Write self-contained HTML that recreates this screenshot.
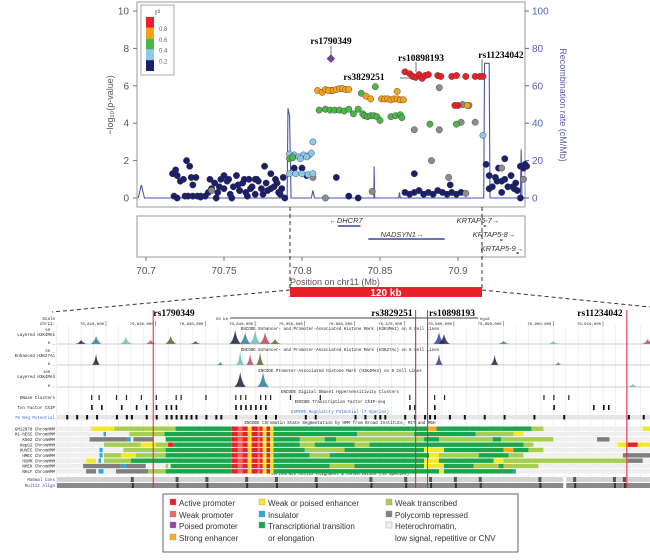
<!DOCTYPE html>
<html><head><meta charset="utf-8"><style>
body{margin:0;background:#fff}
svg{display:block;font-family:"Liberation Sans",sans-serif}
.m{font-family:"Liberation Mono",monospace}
</style></head><body>
<svg id="s" width="650" height="560" viewBox="0 0 650 560">
<g id="topg"></g>
<g id="bro"></g>
<g id="leg"></g>
</svg>
<script>
const navyPos=[70.717,70.718,70.719,70.72,70.722,70.724,70.726,70.728,70.729,70.73,70.732,70.735,70.738,70.74,70.742,70.744,70.746,70.748,70.75,70.752,70.754,70.756,70.758,70.76,70.762,70.764,70.766,70.768,70.77,70.772,70.774,70.776,70.778,70.78,70.782,70.784,70.786,70.788,70.789,70.72,70.725,70.735,70.745,70.755,70.765,70.775,70.785,70.75,70.76,70.77,70.78,70.73,70.795,70.8,70.803,70.822,70.83,70.836,70.866,70.869,70.872,70.875,70.878,70.881,70.884,70.887,70.89,70.893,70.896,70.899,70.902,70.872,70.895,70.918,70.92,70.922,70.924,70.926,70.928,70.93,70.932,70.934,70.936,70.938,70.94,70.942,70.944,70.92,70.925,70.93,70.935,70.94,70.943,70.928,70.937,70.741,70.747,70.753,70.759,70.763,70.767,70.771,70.777,70.783,70.787,70.733,70.727];
const navyVal=[1.3,0.1,1.5,1.2,0.9,1.0,2.0,1.7,1.1,0.1,1.1,0.05,0.1,0.3,0.5,0.8,0.3,1.0,0.5,0.9,0.2,0.6,1.2,0.4,0.8,0.3,1.0,0.6,0.2,0.9,0.5,1.7,0.4,1.3,0.6,0.8,0.2,1.1,0.0,0.0,0.1,0.1,0.0,0.0,0.1,0.2,0.3,1.2,0.4,1.0,0.5,0.7,1.6,1.6,1.2,1.1,0.1,0.0,0.3,0.2,0.3,0.4,0.2,0.3,0.2,0.4,0.3,0.2,0.3,0.2,0.3,1.3,0.7,1.8,1.2,0.6,1.1,1.6,0.9,2.1,0.6,1.2,0.5,0.4,1.7,1.6,1.7,0.5,0.9,1.0,0.6,0.0,1.8,0.3,0.8,1.0,0.6,1.0,0.7,1.0,0.5,1.0,0.8,1.0,0.5,0.1,0.1];
const lbPos=[70.792,70.795,70.798,70.801,70.804,70.806,70.792,70.796,70.8,70.804,70.807,70.794,70.799,70.803,70.807,70.916];
const lbVal=[2.35,2.3,2.2,2.3,2.25,2.4,1.3,1.3,1.3,1.25,1.3,2.2,2.1,2.2,3.0,3.35];
const grPos=[70.792,70.794,70.811,70.815,70.818,70.821,70.824,70.827,70.83,70.833,70.836,70.839,70.84,70.842,70.844,70.846,70.848,70.85,70.857,70.86,70.863,70.864,70.838,70.847,70.882,70.899];
const grVal=[2.1,2.15,4.7,4.75,4.7,4.7,4.7,4.65,4.75,4.5,4.75,4.5,4.4,4.35,4.4,4.4,4.35,4.15,4.35,4.4,4.45,4.3,5.6,5.95,3.95,3.95];
const orPos=[70.81,70.813,70.815,70.817,70.82,70.822,70.824,70.826,70.828,70.83,70.841,70.844,70.851,70.853,70.855,70.857,70.859,70.861,70.863,70.865,70.861,70.906];
const orVal=[5.75,5.65,5.8,5.75,5.75,5.8,5.85,5.85,5.8,5.8,5.45,5.3,5.3,5.3,5.3,5.25,5.3,5.3,5.25,5.25,5.7,4.95];
const redPos=[70.866,70.869,70.871,70.873,70.875,70.877,70.879,70.881,70.887,70.889,70.896,70.899,70.905,70.911,70.914,70.916,70.9,70.898];
const redVal=[6.75,6.65,6.5,6.45,6.6,6.4,6.55,6.6,6.55,6.5,6.5,6.55,6.5,6.5,6.5,6.5,4.95,4.95];
const gyPos=[70.819,70.888,70.872,70.888,70.883,70.894,70.902,70.911,70.903,70.907,70.845,70.815,70.905,70.928,70.942,70.807,70.742];
const gyVal=[5.75,5.9,3.65,3.65,2.0,1.1,4.05,4.05,5.0,4.95,0.35,0.0,0.25,1.6,1.0,1.1,0.4];
const leadPos=[70.8185], leadVal=[7.45];
const recPos=[70.695,70.697,70.699,70.7905,70.791,70.792,70.793,70.806,70.807,70.808,70.8461,70.8462,70.8466,70.862,70.8625,70.863,70.9165,70.917,70.92,70.9205,70.94,70.9405,70.941,70.945];
const recVal=[0,7,0,0,48,44,0,0,4,0,0,17,0,0,3,0,0,72,72,0,0,26,0,0];
const yTicks=[0,2,4,6,8,10], rTicks=[0,20,40,60,80,100], xTicks=[70.7,70.75,70.8,70.85,70.9];

const NS="http://www.w3.org/2000/svg";
function E(p,t,a,txt){const e=document.createElementNS(NS,t);for(const k in a)e.setAttribute(k,a[k]);if(txt!=null)e.textContent=txt;p.appendChild(e);return e;}
const X=v=>146+(v-70.7)*1560, Y=v=>198-v*18.7, YR=v=>198-v*1.87;
const TP=document.getElementById('topg');
let f=E(TP,'rect',{x:137,y:2,width:388,height:205,fill:'none',stroke:'#999'});

yTicks.forEach(t=>{E(TP,'line',{x1:133,x2:137,y1:Y(t),y2:Y(t),stroke:'#777'});
 const l=E(TP,'text',{x:129,y:Y(t)+3.5,'font-size':10,fill:'#555','text-anchor':'end'},t);
 });
rTicks.forEach(t=>{E(TP,'line',{x1:525,x2:529,y1:YR(t),y2:YR(t),stroke:'#5560b0'});
 const l=E(TP,'text',{x:532,y:YR(t)+3.5,'font-size':10,fill:'#5560b0'},t);
 });
let yt=E(TP,'text',{transform:'translate(113,105) rotate(-90)','font-size':9,fill:'#555','text-anchor':'middle'},'−log₁₀(p-value)');

let rt=E(TP,'text',{transform:'translate(560,105) rotate(90)','font-size':9,fill:'#5560b0','text-anchor':'middle'},'Recombination rate (cM/Mb)');

let d='';recPos.forEach((p,i)=>{d+=(i?'L':'M')+Math.max(137,X(p))+','+YR(recVal[i])});
let rl=E(TP,'path',{d:d,fill:'none',stroke:'#4a55b0','stroke-width':1.1});

function pts(P,V,c,nm){P.forEach((p,i)=>{const e=E(TP,'circle',{cx:X(p),cy:Y(V[i]),r:3.2,fill:c,stroke:'#333','stroke-width':0.4});
 });}
pts(navyPos,navyVal,'#1b1f6b','snp-point-r2-0.2');
pts(gyPos,gyVal,'#8c8c8c','snp-point-no-ld');
pts(lbPos,lbVal,'#8cc8ee','snp-point-r2-0.4');
pts(grPos,grVal,'#4cb648','snp-point-r2-0.6');
pts(orPos,orVal,'#f5a21c','snp-point-r2-0.8');
pts(redPos,redVal,'#e8202a','snp-point-r2-1');
leadPos.forEach((p,i)=>{const x=X(p),y=Y(leadVal[i]);const e=E(TP,'path',{d:`M${x},${y-4}L${x+4},${y}L${x},${y+4}L${x-4},${y}Z`,fill:'#7b3f9e',stroke:'#333','stroke-width':.4});
 });
function ann(t,tx,ty,lx1,ly1,lx2,ly2,nm){E(TP,'line',{x1:lx1,y1:ly1,x2:lx2,y2:ly2,stroke:'#333','stroke-width':.7});
 const e=E(TP,'text',{x:tx,y:ty,'font-size':9.5,'font-weight':'bold','font-family':'Liberation Serif,serif','text-anchor':'middle'},t);
 }
ann('rs1790349',331,44,331,46,331,56,'label-rs1790349');
ann('rs10898193',421,61,416,62,416,72,'label-rs10898193');
ann('rs3829251',364,80,400,78,412,78,'label-rs3829251');
ann('rs11234042',501,58,482,59,482,74,'label-rs11234042');
const lg=E(TP,'g',{});
E(lg,'rect',{x:141,y:5,width:33,height:70,fill:'#fff',stroke:'#aaa'});
E(lg,'text',{x:155,y:15,'font-size':8,fill:'#555'},'r²');
['#e8202a','#f5a21c','#4cb648','#8cc8ee','#1b1f6b'].forEach((c,i)=>E(lg,'rect',{x:146,y:17+i*10.8,width:8,height:10.8,fill:c}));
['0.8','0.6','0.4','0.2'].forEach((t,i)=>E(lg,'text',{x:159,y:31+i*10.8,'font-size':6,fill:'#666'},t));
const gp=E(TP,'g',{});
E(gp,'rect',{x:137,y:216,width:388,height:41,fill:'#fff',stroke:'#999'});
function gene(n,s,e,y,tx,ty){E(gp,'line',{x1:X(s),x2:X(e),y1:y,y2:y,stroke:'#3a46a0','stroke-width':1.5});
 const t=E(gp,'text',{x:tx,y:ty,'font-size':7.5,'font-style':'italic',fill:'#333','text-anchor':'middle'},n);
 }
gene('←DHCR7',70.823,70.8375,226,346,223);gene('NADSYN1→',70.8425,70.8915,239,402,237);
gene('KRTAP5-7→',70.9165,70.918,226,478,223);gene('KRTAP5-8→',70.927,70.9285,240,494,237);gene('KRTAP5-9→',70.9375,70.939,253,502,251);
xTicks.forEach(t=>{E(TP,'line',{x1:X(t),x2:X(t),y1:257,y2:261,stroke:'#777'});
 const l=E(TP,'text',{x:X(t),y:274,'font-size':10,fill:'#555','text-anchor':'middle'},t);
 });
let xt=E(TP,'text',{x:290,y:285,'font-size':9,fill:'#555'},'Position on chr11 (Mb)');

E(TP,'path',{d:'M290,207V288M482,207V288M290,290L52,312M482,290L650,307',stroke:'#333','stroke-dasharray':'4,3',fill:'none'});
let rb=E(TP,'rect',{x:290,y:287,width:192,height:10,fill:'#e8202a'});
E(TP,'text',{x:386,y:296,'font-size':10,'font-weight':'bold',fill:'#fff','text-anchor':'middle'},'120 kb');

// ---------- genome browser ----------
const BR=document.getElementById('bro');
const K=kb=>106+(kb-10)*4.97;
const col={G:'#1aa64a',L:'#a6cf50',R:'#e8202a',P:'#f06565',Y:'#f5e829',O:'#f7a81b',B:'#29a8df',D:'#7f7f7f'};
for(let k=0;k<=120;k+=2.5)E(BR,'line',{x1:K(k),x2:K(k),y1:326,y2:488,stroke:'#e4e6ee','stroke-width':.6});
function T(x,y,s,t,c,a,nm){const e=E(BR,'text',{x:x,y:y,'font-size':s,fill:c||'#222','text-anchor':a||'start',class:'m'},t);return e;}
T(55,320,4.2,'Scale','#222','end');T(55,325,4.2,'chr11:','#222','end');
E(BR,'line',{x1:230,x2:478,y1:318,y2:318,stroke:'#444'});T(228,320,4,'50 kb','#222','end');T(480,320,4,'hg18');
const scaleKb=[10,20,30,40,50,60,70,80,90,100,110];
scaleKb.forEach(k=>{T(K(k)-2,325,4,'70,'+(800+k)+',000','#222','end','scale-tick-label');E(BR,'line',{x1:K(k),x2:K(k),y1:321,y2:326,stroke:'#444','stroke-width':.5});});
const trackTitles=[[330,'ENCODE Enhancer- and Promoter-Associated Histone Mark (H3K4Me1) on 8 Cell Lines'],[351,'ENCODE Enhancer- and Promoter-Associated Histone Mark (H3K27Ac) on 8 Cell Lines'],[372,'ENCODE Promoter-Associated Histone Mark (H3K4Me3) on 9 Cell Lines'],[393,'ENCODE Digital DNaseI Hypersensitivity Clusters'],[403,'ENCODE Transcription Factor ChIP-seq'],[424,'ENCODE Chromatin State Segmentation by HMM from Broad Institute, MIT and MGH'],[475,'Vertebrate Multiz Alignment & Conservation (44 Species)']];
trackTitles.forEach(t=>T(340,t[0],4.2,t[1],'#222','middle','track-title'));
T(340,413,4.2,'ESPERR Regulatory Potential (7 Species)','#3a6ed8','middle','track-title');
[[336,'Layered H3K4Me1'],[357,'Enhanced H3K27Ac'],[378,'Layered H3K4Me3'],[399,'DNase Clusters'],[409,'Txn Factor ChIP']].forEach(t=>T(55,t[0],4.2,t[1],'#222','end'));
T(55,419,4.2,'7X Reg Potential','#3a6ed8','end');
const k4me1Kb=[5,8,14,19,23,28,36,38,40,42,44,77,78,90,100,119];
const k4me1H=[4,8,7,4,8,3,14,12,14,12,5,12,10,3,3,5];
const k27Kb=[8,33,37,39,41,77,88.2,101];
const k27H=[11,3,14,11,13,11,10,3];
const k4me3Kb=[37,41.6,116];
const k4me3H=[15,15,3];
const pkCol=['#1b1f3b','#2d7d9a','#6bc0c0','#c04060','#4a6d2a','#3a3aa0'];
function peaks(K0,H,base,w,nm){K0.forEach((k,i)=>{const x=K(k),h=H[i];const e=E(BR,'path',{d:`M${x-w},${base}Q${x-w*.3},${base-h*.2} ${x},${base-h}Q${x+w*.3},${base-h*.2} ${x+w},${base}Z`,fill:pkCol[i%pkCol.length],opacity:.85});});
 E(BR,'line',{x1:57,x2:650,y1:base,y2:base,stroke:'#999','stroke-width':.5});}
peaks(k4me1Kb,k4me1H,344,6,'h3k4me1-peak');peaks(k27Kb,k27H,365,4,'h3k27ac-peak');peaks(k4me3Kb,k4me3H,387,6,'h3k4me3-peak');
T(55,331,4,'50 _','#222','end');T(55,344,4,'0 _','#222','end');T(55,352,4,'50 _','#222','end');T(55,365,4,'0 _','#222','end');T(55,373,4,'100 _','#222','end');T(55,387,4,'0 _','#222','end');
const dnaseKb=[7,8.5,12,14,17,20,24,25,30,36,37,38,41,42,43,47,53,71,76,78,98,100,103,120];
const tfKb=[7,9,13,16,18,20,22,23,24,36,37,38,39,40,41,42,71,72,76,100,108,110,111];
const regKb=[2,4,6,8,12,14,15,18,20,22,23,24,25,26,27,28,30,32,33,36,40,42,44,50,52,60,62,64,65,66,70,72,74,75,76,79,82,86,90,96,102,115,118];
dnaseKb.forEach(k=>E(BR,'rect',{x:K(k),y:395,width:1.2,height:5,fill:'#222'}));
tfKb.forEach(k=>E(BR,'rect',{x:K(k),y:405,width:1.6,height:5,fill:'#111'}));
E(BR,'rect',{x:57,y:415,width:593,height:4.5,fill:'#e6e6e6'});
regKb.forEach(k=>E(BR,'rect',{x:K(k),y:415,width:2,height:4.5,fill:'#111'}));
const cells=['GM12878','H1-hESC','K562','HepG2','HUVEC','HMEC','HSMM','NHEK','NHLF'];
const segs=[
[[7,11.7,'Y'],[11.7,24,'L'],[24,35.3,'G'],[35.3,43.7,'R'],[43.7,74.8,'G'],[74.8,76.5,'O'],[76.5,95.6,'G'],[95.6,98,'L'],[118,119.7,'Y']],
[[9.5,10,'B'],[14.7,21.8,'L'],[21.8,35.3,'G'],[35.3,43.7,'R'],[43.7,60.5,'G'],[60.5,72,'L'],[72,84.4,'G'],[84.4,92,'L'],[92,94,'Y']],
[[6.7,14.3,'D'],[14.3,15,'B'],[15.5,19.5,'D'],[22,35.3,'G'],[35.3,43.7,'R'],[43.7,49,'G'],[49,54,'L'],[54,56.3,'G'],[56.3,74,'L'],[74,77,'G'],[77,87.8,'L'],[87.8,89.5,'G'],[89.5,100,'L'],[108.8,111.3,'D']],
[[9.6,17,'L'],[17,20,'Y'],[20,22.5,'L'],[22.5,23.5,'R'],[23.5,35.3,'G'],[35.3,43.7,'R'],[43.7,49,'G'],[49,52,'L'],[52,60,'G'],[60,63,'L'],[63,94,'G'],[94,96,'L'],[113,115,'Y'],[115,117,'R'],[117,119.7,'Y']],
[[8.7,9.3,'B'],[13.5,22,'L'],[22,35.3,'G'],[35.3,43.7,'R'],[43.7,50,'G'],[50,58,'L'],[58,74,'G'],[74,78,'Y'],[78,90,'G'],[90,92,'O'],[92,95,'G'],[95,98,'L']],
[[8.7,9.3,'B'],[9.6,13,'L'],[13,16,'Y'],[16,22,'L'],[22,35.3,'G'],[35.3,43.7,'R'],[43.7,51,'G'],[51,55,'L'],[55,75,'G'],[75,77,'Y'],[77,85,'L'],[85,91,'G'],[91,94,'L'],[114,119.7,'D']],
[[6,8,'Y'],[8.5,9,'B'],[9.6,15,'L'],[15,35.3,'G'],[35.3,43.7,'R'],[43.7,74,'G'],[74,77,'Y'],[77,88,'G'],[88,90,'Y'],[90,115,'L'],[115,118,'D']],
[[5.4,13,'D'],[13,14,'B'],[14,18,'D'],[22,22.5,'L'],[23,35.3,'G'],[35.3,43.7,'R'],[43.7,55,'G'],[55,60,'L'],[60,74,'G'],[74,78,'Y'],[78,84,'G'],[84,89,'L'],[89,90,'G'],[90,97,'L']],
[[6,8,'D'],[8.5,9.5,'B'],[12,18.5,'D'],[18.5,22,'L'],[22,35.3,'G'],[35.3,43.7,'R'],[43.7,77,'G'],[77,78,'Y'],[78,92,'G'],[92,92.5,'B']]];
const redMix=[[36.5,37.5,'P'],[38.5,39.3,'Y'],[40.5,41,'P'],[41.5,42.3,'Y'],[43,43.7,'Y']];
cells.forEach((c,i)=>{const y=426.5+i*5.33;
 E(BR,'rect',{x:57,y:y,width:593,height:4.4,fill:'#efefef'});
 segs[i].forEach(s=>{const e=E(BR,'rect',{x:K(s[0]),y:y,width:K(s[1])-K(s[0]),height:4.4,fill:col[s[2]]});});
 redMix.forEach(s=>E(BR,'rect',{x:K(s[0]),y:y,width:K(s[1])-K(s[0]),height:4.4,fill:col[s[2]]}));
 T(55,y+3.8,4.2,c+' ChromHMM','#222','end');});
T(55,481,4.2,'Mammal Cons','#3a3aa0','end');T(55,487,4.2,'Multiz Align','#3a3aa0','end');
E(BR,'rect',{x:57,y:477,width:593,height:5,fill:'#d4d4d4'});
E(BR,'rect',{x:57,y:483,width:593,height:5,fill:'#8a8a8a'});
const consKb=[15,24,30,38,44,52,63,70,75,80,85,97,104,112,114];
consKb.forEach(k=>{E(BR,'rect',{x:K(k),y:477,width:3,height:5,fill:'#555'});E(BR,'rect',{x:K(k)+1,y:483,width:2,height:5,fill:'#333'});});
E(BR,'rect',{x:K(102),y:477,width:3,height:11,fill:'#fff'});
const snpKb=[19.5,72.3,74.7,114.8];
const snpNames=['rs1790349','rs3829251','rs10898193','rs11234042'];
const snpLX=[174,392,452,600];
snpKb.forEach((k,i)=>{const e=E(BR,'line',{x1:K(k),x2:K(k),y1:310,y2:488,stroke:'#e8202a','stroke-width':1});
 const t=E(BR,'text',{x:snpLX[i],y:316,'font-size':9.5,'font-weight':'bold','font-family':'Liberation Serif,serif','text-anchor':'middle'},snpNames[i]);});

// ---------- legend ----------
const LG=document.getElementById('leg');
E(LG,'rect',{x:163,y:494,width:355,height:58,fill:'#fff',stroke:'#666'});
const legItems=[[177,506,'#e8202a','Active promoter'],[177,518,'#f06565','Weak promoter'],[177,529,'#9b3fa0','Poised promoter'],[177,541,'#f7b21b','Strong enhancer'],
[266,506,'#f5e829','Weak or poised enhancer'],[266,518,'#29a8df','Insulator'],[266,529,'#1aa64a','Transcriptional transition'],[266,541,null,'or elongation'],
[393,506,'#a6cf50','Weak transcribed'],[393,518,'#7f7f7f','Polycomb repressed'],[393,529,'#f2f2f2','Heterochromatin,'],[393,541,null,'low signal, repetitive or CNV']];
legItems.forEach(it=>{if(it[2]){const r=E(LG,'rect',{x:it[0]-7,y:it[1]-7,width:6,height:6,fill:it[2],stroke:'#999','stroke-width':.4});}
 const t=E(LG,'text',{x:it[0]+2,y:it[1],'font-size':8,fill:'#333'},it[3]);});
</script>
</body></html>
